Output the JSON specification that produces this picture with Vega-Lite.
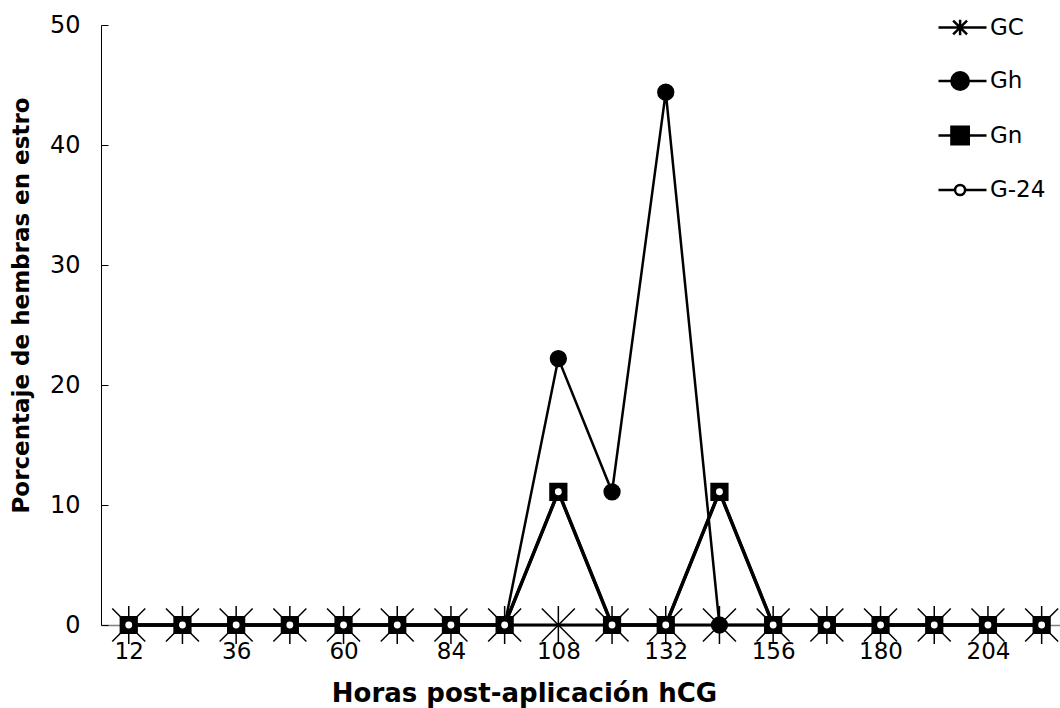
{
  "$schema": "https://vega.github.io/schema/vega-lite/v6.json",
  "autosize": "none",
  "padding": {"left": 101, "top": 25, "right": 0, "bottom": 83},
  "width": 959,
  "height": 600,
  "background": "white",
  "config": {"view": {"stroke": null}, "font": "DejaVu Sans"},
  "data": {"values": [
    {"horas": 12, "grupo": "GC", "pct": 0}, {"horas": 24, "grupo": "GC", "pct": 0}, {"horas": 36, "grupo": "GC", "pct": 0}, {"horas": 48, "grupo": "GC", "pct": 0}, {"horas": 60, "grupo": "GC", "pct": 0}, {"horas": 72, "grupo": "GC", "pct": 0}, {"horas": 84, "grupo": "GC", "pct": 0}, {"horas": 96, "grupo": "GC", "pct": 0}, {"horas": 108, "grupo": "GC", "pct": 0}, {"horas": 120, "grupo": "GC", "pct": 0}, {"horas": 132, "grupo": "GC", "pct": 0}, {"horas": 144, "grupo": "GC", "pct": 0}, {"horas": 156, "grupo": "GC", "pct": 0}, {"horas": 168, "grupo": "GC", "pct": 0}, {"horas": 180, "grupo": "GC", "pct": 0}, {"horas": 192, "grupo": "GC", "pct": 0}, {"horas": 204, "grupo": "GC", "pct": 0}, {"horas": 216, "grupo": "GC", "pct": 0},
    {"horas": 12, "grupo": "Gh", "pct": 0}, {"horas": 24, "grupo": "Gh", "pct": 0}, {"horas": 36, "grupo": "Gh", "pct": 0}, {"horas": 48, "grupo": "Gh", "pct": 0}, {"horas": 60, "grupo": "Gh", "pct": 0}, {"horas": 72, "grupo": "Gh", "pct": 0}, {"horas": 84, "grupo": "Gh", "pct": 0}, {"horas": 96, "grupo": "Gh", "pct": 0}, {"horas": 108, "grupo": "Gh", "pct": 22.2}, {"horas": 120, "grupo": "Gh", "pct": 11.1}, {"horas": 132, "grupo": "Gh", "pct": 44.4}, {"horas": 144, "grupo": "Gh", "pct": 0}, {"horas": 156, "grupo": "Gh", "pct": 0}, {"horas": 168, "grupo": "Gh", "pct": 0}, {"horas": 180, "grupo": "Gh", "pct": 0}, {"horas": 192, "grupo": "Gh", "pct": 0}, {"horas": 204, "grupo": "Gh", "pct": 0}, {"horas": 216, "grupo": "Gh", "pct": 0},
    {"horas": 12, "grupo": "Gn", "pct": 0}, {"horas": 24, "grupo": "Gn", "pct": 0}, {"horas": 36, "grupo": "Gn", "pct": 0}, {"horas": 48, "grupo": "Gn", "pct": 0}, {"horas": 60, "grupo": "Gn", "pct": 0}, {"horas": 72, "grupo": "Gn", "pct": 0}, {"horas": 84, "grupo": "Gn", "pct": 0}, {"horas": 96, "grupo": "Gn", "pct": 0}, {"horas": 108, "grupo": "Gn", "pct": 11.1}, {"horas": 120, "grupo": "Gn", "pct": 0}, {"horas": 132, "grupo": "Gn", "pct": 0}, {"horas": 144, "grupo": "Gn", "pct": 11.1}, {"horas": 156, "grupo": "Gn", "pct": 0}, {"horas": 168, "grupo": "Gn", "pct": 0}, {"horas": 180, "grupo": "Gn", "pct": 0}, {"horas": 192, "grupo": "Gn", "pct": 0}, {"horas": 204, "grupo": "Gn", "pct": 0}, {"horas": 216, "grupo": "Gn", "pct": 0},
    {"horas": 12, "grupo": "G-24", "pct": 0}, {"horas": 24, "grupo": "G-24", "pct": 0}, {"horas": 36, "grupo": "G-24", "pct": 0}, {"horas": 48, "grupo": "G-24", "pct": 0}, {"horas": 60, "grupo": "G-24", "pct": 0}, {"horas": 72, "grupo": "G-24", "pct": 0}, {"horas": 84, "grupo": "G-24", "pct": 0}, {"horas": 96, "grupo": "G-24", "pct": 0}, {"horas": 108, "grupo": "G-24", "pct": 11.1}, {"horas": 120, "grupo": "G-24", "pct": 0}, {"horas": 132, "grupo": "G-24", "pct": 0}, {"horas": 144, "grupo": "G-24", "pct": 11.1}, {"horas": 156, "grupo": "G-24", "pct": 0}, {"horas": 168, "grupo": "G-24", "pct": 0}, {"horas": 180, "grupo": "G-24", "pct": 0}, {"horas": 192, "grupo": "G-24", "pct": 0}, {"horas": 204, "grupo": "G-24", "pct": 0}, {"horas": 216, "grupo": "G-24", "pct": 0}
  ]},
  "encoding": {
    "x": {
      "field": "horas", "type": "quantitative",
      "scale": {"domain": [5.8, 220.1], "nice": false, "zero": false},
      "axis": {
        "title": "Horas post-aplicación hCG",
        "titleFontSize": 26, "titleFontWeight": "bold", "titleColor": "black",
        "titleX": 423, "titleY": 76, "titleBaseline": "alphabetic", "titleAlign": "center",
        "values": [12, 36, 60, 84, 108, 132, 156, 180, 204],
        "grid": false, "ticks": false,
        "domainColor": "#808080", "domainWidth": 1.5,
        "labelFontSize": 23, "labelColor": "black", "labelPadding": 15
      }
    },
    "y": {
      "field": "pct", "type": "quantitative",
      "scale": {"domain": [0, 50], "nice": false},
      "axis": {
        "title": "Porcentaje de hembras en estro",
        "titleFontSize": 23, "titleFontWeight": "bold", "titleColor": "black",
        "titleX": -68, "titleY": 280, "titleAngle": -90, "titleBaseline": "bottom", "titleAlign": "center",
        "values": [0, 10, 20, 30, 40, 50],
        "grid": false,
        "domainColor": "black", "domainWidth": 1,
        "tickColor": "black", "tickSize": -7, "tickWidth": 1,
        "labelFontSize": 24, "labelColor": "black", "labelPadding": 28
      }
    }
  },
  "resolve": {"scale": {"shape": "independent", "fill": "independent", "stroke": "independent"}, "legend": {"shape": "independent", "fill": "independent", "stroke": "independent"}},
  "layer": [
    {
      "mark": {"type": "point", "filled": true, "opacity": 0},
      "encoding": {
        "shape": {
          "field": "grupo", "type": "nominal",
          "scale": {"domain": ["GC", "Gh", "Gn", "G-24"], "range": [
            "M-1,0L1,0M-0.39,-0.29L0.19,0.29M-0.39,0.29L0.19,-0.29M-0.1,-0.32L-0.1,0.32",
            "M-1,0L1,0M-0.46,0A0.36,0.36 0 1,0 0.26,0A0.36,0.36 0 1,0 -0.46,0Z",
            "M-1,0L1,0M-0.46,-0.36L0.26,-0.36L0.26,0.36L-0.46,0.36Z",
            "M-1,0L-0.31,0M0.11,0L1,0M-0.31,0A0.21,0.21 0 1,0 0.11,0A0.21,0.21 0 1,0 -0.31,0Z"
          ]},
          "legend": {
            "title": null, "orient": "none", "legendX": 836, "legendY": -23,
            "padding": 0, "offset": 0,
            "symbolSize": 2304, "symbolOpacity": 1, "symbolStrokeWidth": 2.5,
            "rowPadding": 14.5, "labelOffset": 2,
            "labelFontSize": 23, "labelColor": "black", "labelFont": "DejaVu Sans"
          }
        },
        "fill": {
          "field": "grupo", "type": "nominal",
          "scale": {"domain": ["GC", "Gh", "Gn", "G-24"], "range": ["transparent", "black", "black", "white"]},
          "legend": {
            "title": null, "orient": "none", "legendX": 836, "legendY": -23,
            "padding": 0, "offset": 0,
            "symbolSize": 2304, "symbolOpacity": 1, "symbolStrokeWidth": 2.5,
            "rowPadding": 14.5, "labelOffset": 2,
            "labelFontSize": 23, "labelColor": "black", "labelFont": "DejaVu Sans"
          }
        },
        "stroke": {
          "field": "grupo", "type": "nominal",
          "scale": {"domain": ["GC", "Gh", "Gn", "G-24"], "range": ["black", "black", "black", "black"]},
          "legend": {
            "title": null, "orient": "none", "legendX": 836, "legendY": -23,
            "padding": 0, "offset": 0,
            "symbolSize": 2304, "symbolOpacity": 1, "symbolStrokeWidth": 2.5,
            "rowPadding": 14.5, "labelOffset": 2,
            "labelFontSize": 23, "labelColor": "black", "labelFont": "DejaVu Sans"
          }
        }
      }
    },
    {
      "mark": {"type": "line", "color": "black"},
      "encoding": {
        "detail": {"field": "grupo"},
        "strokeWidth": {
          "condition": [
            {"test": "datum.grupo === 'GC'", "value": 3},
            {"test": "datum.grupo === 'Gh'", "value": 2.5},
            {"test": "datum.grupo === 'Gn'", "value": 3.5}
          ],
          "value": 3
        }
      }
    },
    {
      "mark": {"type": "point", "filled": true, "stroke": "black", "strokeWidth": 1.5, "opacity": 1},
      "encoding": {
        "shape": {
          "field": "grupo", "type": "nominal",
          "scale": {"domain": ["GC", "Gh", "Gn", "G-24"], "range": ["M-1,-1L1,1M-1,1L1,-1M0,-1.15L0,1.15", "circle", "square", "circle"]},
          "legend": null
        },
        "fill": {
          "condition": [
            {"test": "datum.grupo === 'GC'", "value": "transparent"},
            {"test": "datum.grupo === 'G-24'", "value": "white"}
          ],
          "value": "black"
        },
        "size": {
          "condition": [
            {"test": "datum.grupo === 'GC'", "value": 1089},
            {"test": "datum.grupo === 'Gh'", "value": 250},
            {"test": "datum.grupo === 'Gn'", "value": 280}
          ],
          "value": 70
        }
      }
    }
  ]
}
